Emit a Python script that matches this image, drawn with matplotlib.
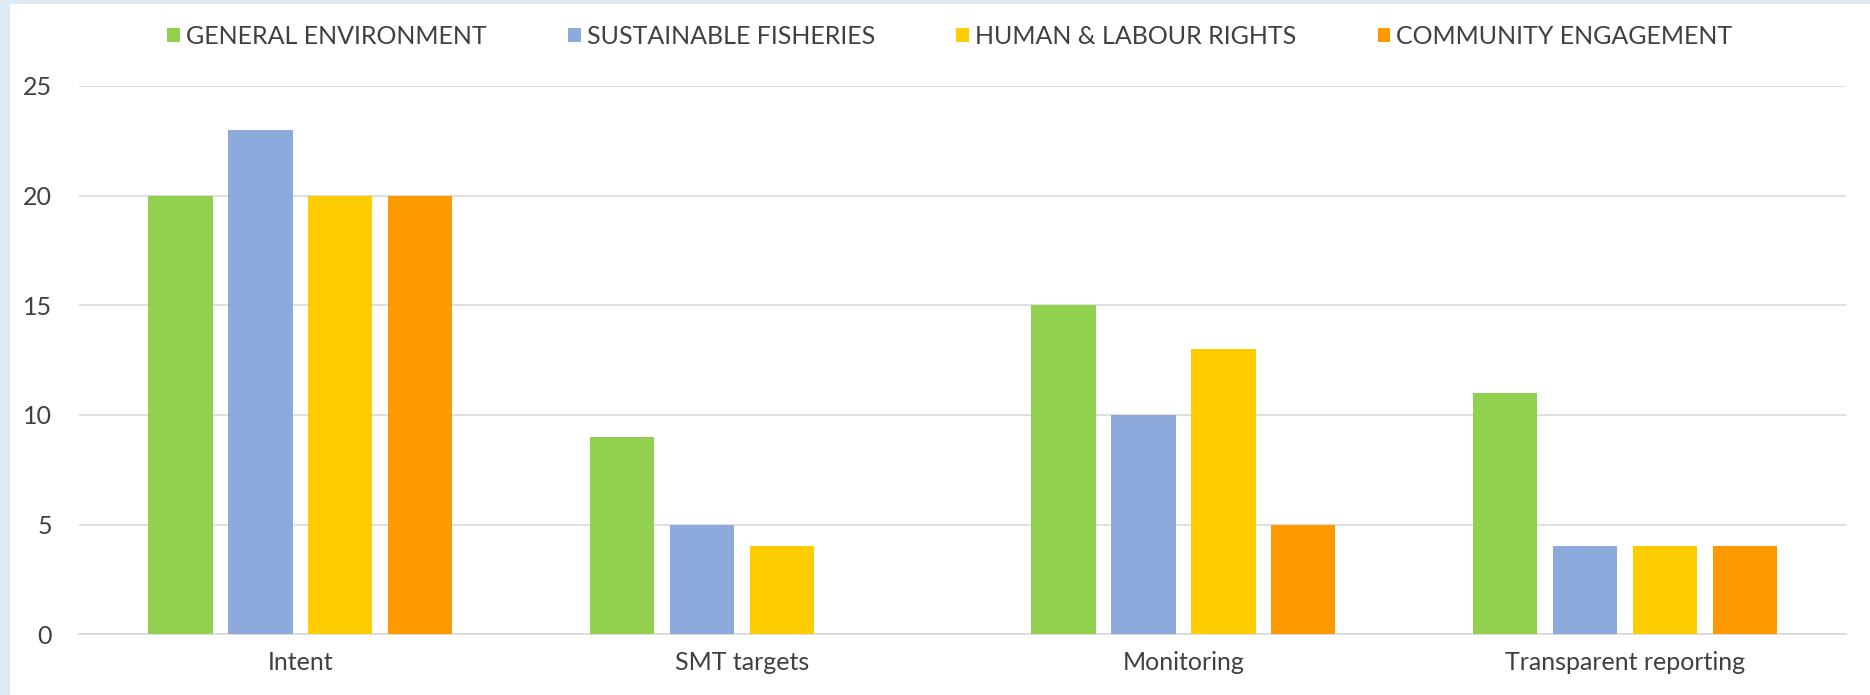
import numpy as np
import matplotlib
matplotlib.use("Agg")
import matplotlib.pyplot as plt
from matplotlib.patches import Rectangle

# Veri
kategoriler = ["Intent", "SMT targets", "Monitoring", "Transparent reporting"]
seriler = ["GENERAL ENVIRONMENT", "SUSTAINABLE FISHERIES", "HUMAN & LABOUR RIGHTS", "COMMUNITY ENGAGEMENT"]
general_env = [20, 9, 15, 11]
sustainable_fish = [23, 5, 10, 4]
human_labour = [20, 4, 13, 4]
community_eng = [20, 0, 5, 4]
y_ticks = [0, 5, 10, 15, 20, 25]

renkler = ["#92D050", "#8EA9DB", "#FFCC00", "#FF9900"]
degerler = [general_env, sustainable_fish, human_labour, community_eng]

plt.rcParams["font.family"] = ["Lato", "DejaVu Sans"]

fig = plt.figure(figsize=(18.7, 6.95), dpi=100)
fig.patch.set_facecolor("white")

# Sol ve ust kenardaki acik mavi serit
fig.patches.append(Rectangle((0, 0), 10 / 1870, 1, transform=fig.transFigure,
                             facecolor="#DDEBF7", edgecolor="none", zorder=0))
fig.patches.append(Rectangle((0, 1 - 4 / 695), 1, 4 / 695, transform=fig.transFigure,
                             facecolor="#DDEBF7", edgecolor="none", zorder=0))

ax = fig.add_axes([0.0425, 0.0875, 0.9445, 0.789])

x = np.arange(len(kategoriler))
adim = 0.181
genislik = 0.146
for i, (ad, val, renk) in enumerate(zip(seriler, degerler, renkler)):
    ax.bar(x + (i - 1.5) * adim, val, width=genislik, color=renk, label=ad, zorder=3)

ax.set_xlim(-0.5, len(kategoriler) - 0.5)
ax.set_ylim(0, 25)
ax.set_yticks(y_ticks)
ax.set_xticks(x)
ax.set_xticklabels(kategoriler)
ax.yaxis.grid(True, color="#D9D9D9", linewidth=1.2, zorder=0)
ax.set_axisbelow(True)
for s in ["left", "right", "top"]:
    ax.spines[s].set_visible(False)
ax.spines["bottom"].set_color("#D9D9D9")
ax.spines["bottom"].set_linewidth(1.2)
ax.tick_params(axis="both", length=0, labelsize=18, colors="#404040")
ax.tick_params(axis="x", pad=12)
ax.tick_params(axis="y", pad=20)

leg = fig.legend(loc="center", bbox_to_anchor=(0.508, 0.948), ncol=4, frameon=False,
                 fontsize=18, handlelength=0.5, handleheight=0.5, columnspacing=3.25,
                 handletextpad=0.25)
for t in leg.get_texts():
    t.set_color("#404040")

plt.savefig("out.png", dpi=100)
plt.close()
